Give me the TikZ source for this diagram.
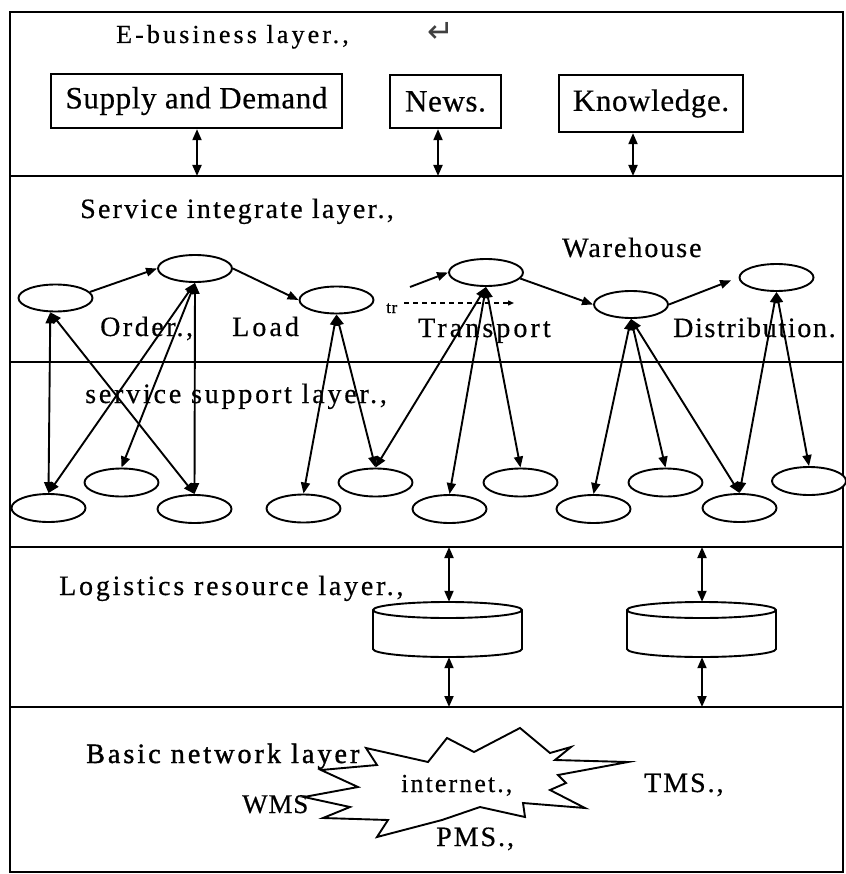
\documentclass[tikz,border=0pt]{standalone}
\usepackage{fontspec}
\setmainfont{Liberation Serif}
\newfontfamily\symbolfont{DejaVu Sans}
\usetikzlibrary{arrows.meta,shapes.geometric}

% size in pt, letter spacing in percent of the em, slightly heavier strokes
\newcommand\spacedfont[2]{\fontsize{#1pt}{#1pt}\selectfont\addfontfeature{LetterSpace=#2,FakeBold=0.5}}

\tikzset{
  frameline/.style={line width=2.5pt},
  labelbox/.style={draw, line width=2.3pt, inner sep=0pt, font=\spacedfont{31}{2}},
  oval/.style={draw, ellipse, line width=1.9pt, fill=white, minimum width=74pt,
               minimum height=27pt, inner sep=0pt},
  lowoval/.style={oval, minimum height=28pt},
  link/.style={line width=1.9pt, {Triangle[length=11pt,width=9pt]}-{Triangle[length=11pt,width=9pt]}},
  flow/.style={line width=1.9pt, -{Triangle[length=11pt,width=8.5pt]}},
  lbl/.style={anchor=base west, inner sep=0pt, font=\spacedfont{28}{8}},
  dbbox/.style={minimum width=149pt, minimum height=55pt, inner sep=0pt},
  dbcyl/.pic={
    \draw[line width=1.9pt, fill=white]
      (-74.5,-19.5) -- (-74.5,19.5)
      arc[start angle=180, end angle=0, x radius=74.5, y radius=8]
      -- (74.5,-19.5)
      arc[start angle=0, end angle=-180, x radius=74.5, y radius=8] -- cycle;
    \draw[line width=1.9pt]
      (-74.5,-19.5) arc[start angle=180, end angle=0, x radius=74.5, y radius=8];
  }
}

\begin{document}
\begin{tikzpicture}[x=1pt,y=-1pt]
\useasboundingbox (0,0) rectangle (845,874);

% outer frame and layer dividers
\draw[frameline] (10,12) rectangle (843,872);
\foreach \yy in {176,362,547,707}
  \draw[frameline] (10,\yy) -- (843,\yy);

% ---------- E-business layer ----------
\node[lbl, font=\spacedfont{26}{12}] (tEb) at (116,43) {E-business layer.,};
\node[inner sep=0pt, font=\symbolfont\fontsize{32pt}{32pt}\selectfont, text=black!75] (ret) at (441,32) {↵};

\node[labelbox, minimum width=291pt, minimum height=54pt] (SD) at (196.5,101) {Supply and Demand};
\node[labelbox, minimum width=111pt, minimum height=53pt] (News) at (445.5,101.5) {News.};
\node[labelbox, minimum width=184pt, minimum height=57pt] (Know) at (651,103.5) {Knowledge.};

\coordinate (a1) at (197,176);
\coordinate (a2) at (438,176);
\coordinate (a3) at (633,176);
\draw[link] (a1 |- SD.south) -- (a1);
\draw[link] (a2 |- News.south) -- (a2);
\draw[link] (a3 |- Know.south) -- (a3);

% ---------- Service integrate layer ----------
\node[lbl] (tSi) at (80,218) {Service integrate layer.,};
\node[lbl, font=\spacedfont{28}{7}] (tWh) at (562,257) {Warehouse};
\node[lbl, font=\spacedfont{28}{9}] (tOrd) at (100,336) {Order.,};
\node[lbl, font=\spacedfont{28}{11}] (tLoad) at (232,336) {Load};
\node[lbl, font=\spacedfont{28}{11}] (tTr) at (418,337) {Transport};
\node[lbl, font=\spacedfont{28}{6}] (tDis) at (673,337) {Distribution.};
\node[lbl, font=\spacedfont{17}{4}] (ttr) at (386,313) {tr};

\node[oval] (E1) at (55.5,298) {};
\node[oval] (E2) at (195,268.5) {};
\node[oval] (E3) at (336.5,300) {};
\node[oval] (E4) at (486,272.5) {};
\node[oval] (E5) at (631,304.5) {};
\node[oval] (E6) at (776.5,277.5) {};

\coordinate (tin) at (410,287);
\coordinate (dsA) at (404,303);
\coordinate (dsB) at (514,303);
\draw[flow] (E1.10) -- (E2.west);
\draw[flow] (E2.east) -- (E3.west);
\draw[flow] (tin) -- (E4.west);
\draw[flow] (E4.-10) -- (E5.west);
\draw[flow, shorten >=8pt] (E5.east) -- (E6.west);
\draw[line width=1.4pt, dash pattern=on 5pt off 4pt, -{Triangle[length=6pt,width=5pt]}] (dsA) -- (dsB);

% ---------- Service support layer ----------
\node[lbl, font=\spacedfont{28}{10}] (tSs) at (85,403) {service support layer.,};

\node[lowoval] (B1) at (48.5,508) {};
\node[lowoval] (B2) at (121.5,482.5) {};
\node[lowoval] (B3) at (194.5,509) {};
\node[lowoval] (B4) at (303.5,508.5) {};
\node[lowoval] (B5) at (375.5,482.5) {};
\node[lowoval] (B6) at (449.5,509) {};
\node[lowoval] (B7) at (520.5,482.5) {};
\node[lowoval] (B8) at (593.5,509) {};
\node[lowoval] (B9) at (665.5,482.5) {};
\node[lowoval] (B10) at (739.5,508) {};
\node[lowoval] (B11) at (809,481) {};

\draw[link] (E1.250) -- (B1.north);
\draw[link] (E1.250) -- (B3.north);
\draw[link] (E2.south) -- (B1.north);
\draw[link] (E2.south) -- (B2.north);
\draw[link] (E2.south) -- (B3.north);
\draw[link] (E3.south) -- (B4.north);
\draw[link] (E3.south) -- (B5.north);
\draw[link] (E4.south) -- (B5.north);
\draw[link] (E4.south) -- (B6.north);
\draw[link] (E4.south) -- (B7.north);
\draw[link] (E5.south) -- (B8.north);
\draw[link] (E5.south) -- (B9.north);
\draw[link] (E5.south) -- (B10.north);
\draw[link] (E6.south) -- (B10.north);
\draw[link] (E6.south) -- (B11.north);

% ---------- Logistics resource layer ----------
\node[lbl, font=\spacedfont{28}{10}] (tLr) at (59,595) {Logistics resource layer.,};

\node[dbbox] (db1) at (447.5,629.5) {};
\node[dbbox] (db2) at (701.5,629.5) {};
\pic at (db1.center) {dbcyl};
\pic at (db2.center) {dbcyl};

\coordinate (r1t) at (449,547);
\coordinate (r1b) at (449,707);
\coordinate (r2t) at (702,547);
\coordinate (r2b) at (702,707);
\draw[link] (r1t) -- (r1t |- db1.north);
\draw[link] (r1b |- db1.south) -- (r1b);
\draw[link] (r2t) -- (r2t |- db2.north);
\draw[link] (r2b |- db2.south) -- (r2b);

% ---------- Basic network layer ----------
\draw[line width=1.9pt, line join=miter]
  (366,748) -- (428,762) -- (447,738) -- (474,752) -- (520,728) -- (550,753)
  -- (571,747) -- (555,760) -- (628,762) -- (558,775) -- (566,783) -- (550,790)
  -- (585,808) -- (523,803) -- (525,817) -- (480,807) -- (442,820) -- (377,837)
  -- (388,820) -- (323,818) -- (350,807) -- (304,797) -- (358,787) -- (321,770)
  -- (377,765) -- cycle;

\node[lbl, font=\spacedfont{28}{11}\addfontfeature{FakeBold=1.4}] (tBn) at (86,763) {Basic network layer};
\node[lbl, font=\spacedfont{26}{8}] (tInt) at (401,792) {internet.,};
\node[lbl, font=\spacedfont{28}{7}] (tTMS) at (644,792) {TMS.,};
\node[lbl, font=\spacedfont{28}{7}] (tPMS) at (436,846) {PMS.,};
\node[lbl, font=\spacedfont{27}{3}] (tWMS) at (242,813) {WMS};
\end{tikzpicture}
\end{document}
